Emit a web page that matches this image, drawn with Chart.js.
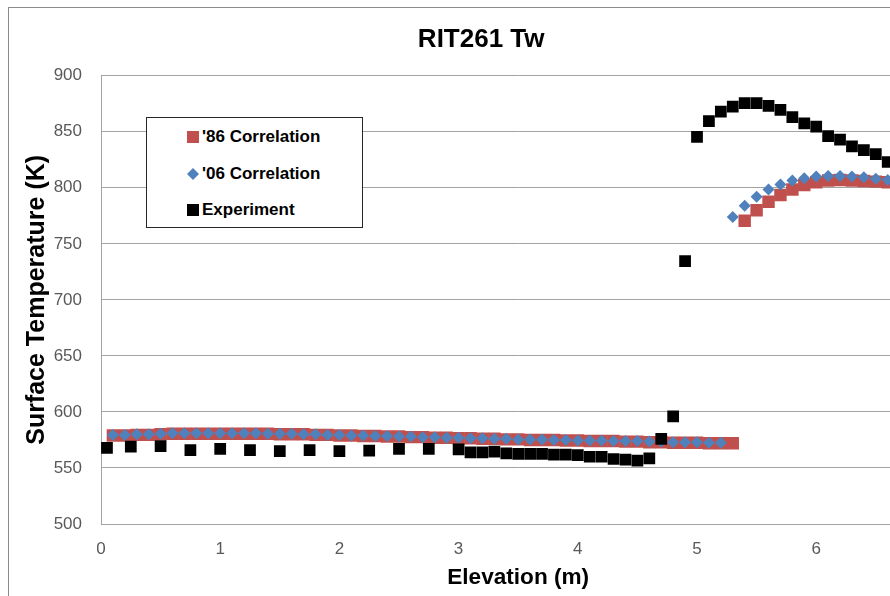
<!DOCTYPE html>
<html>
<head>
<meta charset="utf-8">
<title>RIT261 Tw</title>
<script src="https://cdn.jsdelivr.net/npm/chart.js@4/dist/chart.umd.min.js"></script>
<style>
  html, body { margin: 0; padding: 0; background: #fff; overflow: hidden; width: 890px; height: 596px; }
  #frame { position: absolute; left: 8px; top: 7px; width: 1000px; height: 700px;
           border-left: 1px solid #8c8c8c; border-top: 1px solid #8c8c8c; }
  #plot { position: absolute; left: 0; top: 0; }
  #legend { position: absolute; left: 146px; top: 117px; width: 215px; height: 109px;
            border: 1px solid #262626; background: #fff;
            font: bold 17px "Liberation Sans", Arial, sans-serif; color: #000; }
  #legend .item { position: absolute; left: 0; height: 20px; width: 100%; }
  #legend .mark { position: absolute; }
  #legend .txt { position: absolute; left: 55px; top: 0; line-height: 20px; white-space: nowrap; }
</style>
</head>
<body>
<div id="frame"></div>
<canvas id="plot" width="980" height="600"></canvas>
<div id="legend"></div>
<script>
// Elevation (m) of the correlation predictions
const elevCorr = [
  0.1, 0.2, 0.3, 0.4, 0.5, 0.6, 0.7, 0.8, 0.9, 1.0,
  1.1, 1.2, 1.3, 1.4, 1.5, 1.6, 1.7, 1.8, 1.9, 2.0,
  2.1, 2.2, 2.3, 2.4, 2.5, 2.6, 2.7, 2.8, 2.9, 3.0,
  3.1, 3.2, 3.3, 3.4, 3.5, 3.6, 3.7, 3.8, 3.9, 4.0,
  4.1, 4.2, 4.3, 4.4, 4.5, 4.6, 4.7, 4.8, 4.9, 5.0,
  5.1, 5.2, 5.3, 5.4, 5.5, 5.6, 5.7, 5.8, 5.9, 6.0,
  6.1, 6.2, 6.3, 6.4, 6.5, 6.6
];

// Surface temperature (K), '86 correlation
const tw86 = [
  579, 579, 579.5, 579.5, 580, 580.5, 580.5, 580.5, 580.5, 580.5,
  580.5, 580.5, 580.5, 580.5, 580, 580, 580, 579.5, 579.5, 579,
  579, 578.5, 578.5, 578, 578, 577.5, 577.5, 577, 577, 576.5,
  576.5, 576, 576, 575.5, 575.5, 575, 575, 575, 574.5, 574.5,
  574, 574, 574, 573.5, 573.5, 573, 573, 572.5, 572.5, 572.5,
  572, 572, 572, 770.5, 780, 787.5, 793.5, 798.5, 802.5, 805,
  806.5, 807, 806.5, 806, 805.5, 805
];

// Surface temperature (K), '06 correlation
const tw06 = [
  579.5, 579.5, 580, 580, 580.5, 581, 581, 581, 581, 581,
  581, 581, 581, 580.5, 580.5, 580.5, 580, 580, 579.5, 579.5,
  579, 579, 578.5, 578.5, 578, 578, 577.5, 577.5, 577, 577,
  576.5, 576.5, 576, 576, 575.5, 575.5, 575.5, 575, 575, 574.5,
  574.5, 574.5, 574, 574, 574, 573.5, 573.5, 573, 573, 573,
  572.5, 572.5, 774, 784, 792, 798.5, 803, 806.5, 808.5, 810,
  810.5, 810.5, 810, 809.5, 808, 807
];

// Measured thermocouple elevations (m) and wall temperatures (K)
const elevExp = [
  0.05, 0.25, 0.5, 0.75, 1.0, 1.25, 1.5, 1.75, 2.0, 2.25,
  2.5, 2.75, 3.0, 3.1, 3.2, 3.3, 3.4, 3.5, 3.6, 3.7,
  3.8, 3.9, 4.0, 4.1, 4.2, 4.3, 4.4, 4.5, 4.6, 4.7,
  4.8, 4.9, 5.0, 5.1, 5.2, 5.3, 5.4, 5.5, 5.6, 5.7,
  5.8, 5.9, 6.0, 6.1, 6.2, 6.3, 6.4, 6.5, 6.6
];
const twExp = [
  568, 569, 569.5, 566, 567, 566, 565, 566, 565, 565.5,
  567, 567, 566.5, 564, 564, 564.5, 563, 562.5, 562.5, 562.5,
  562, 562, 561.5, 560, 560, 558, 557.5, 556.5, 558.5, 576,
  596, 734.5, 845.5, 859.5, 868, 872.5, 875.5, 875.5, 873, 869.5,
  863, 857.5, 854.5, 846, 843, 837, 833.5, 830, 823
];

// Axis settings
const xRange = { min: 0, max: 7, step: 1 };
const yRange = { min: 500, max: 900, step: 50 };

const FONT = '"Liberation Sans", Arial, sans-serif';
const GRID = '#a3a3a3';
const TICK = '#595959';

const pairs = (xs, ys) => xs.map((x, i) => ({ x: x, y: ys[i] }));

Chart.defaults.font.family = FONT;

const canvas = document.getElementById('plot');
const chart = new Chart(canvas, {
  type: 'scatter',
  data: {
    datasets: [
      { label: "'86 Correlation", data: pairs(elevCorr, tw86), pointStyle: 'rect',
        pointRadius: 8.8, backgroundColor: '#C0504D', borderWidth: 0, order: 3 },
      { label: "'06 Correlation", data: pairs(elevCorr, tw06), pointStyle: 'rectRot',
        pointRadius: 6, backgroundColor: '#4F81BD', borderWidth: 0, order: 2 },
      { label: 'Experiment', data: pairs(elevExp, twExp), pointStyle: 'rect',
        pointRadius: 8.3, backgroundColor: '#000000', borderWidth: 0, order: 1 }
    ]
  },
  options: {
    responsive: false,
    animation: false,
    devicePixelRatio: 1,
    events: [],
    layout: { padding: { left: 27, right: 44.6, top: 0, bottom: 0 } },
    plugins: {
      legend: { display: false },
      tooltip: { enabled: false },
      title: {
        display: true, text: 'RIT261 Tw', color: '#000',
        font: { family: FONT, size: 26, weight: 'bold', lineHeight: 1.2 },
        padding: { top: 24.4, bottom: 20.1 }
      }
    },
    scales: {
      x: {
        type: 'linear', min: xRange.min, max: xRange.max,
        ticks: { stepSize: xRange.step, color: TICK, font: { size: 17 }, padding: 14.8 },
        grid: { display: false, drawTicks: false },
        border: { display: true, color: GRID, width: 1 },
        title: { display: true, text: 'Elevation (m)', color: '#000',
                 font: { family: FONT, size: 22.6, weight: 'bold', lineHeight: 1.2 },
                 padding: { top: 0, bottom: 8.4 } },
        afterFit(scale) { scale.height = 76; }
      },
      y: {
        type: 'linear', min: yRange.min, max: yRange.max,
        ticks: { stepSize: yRange.step, color: TICK, font: { size: 17 }, padding: 19 },
        grid: { color: GRID, lineWidth: 1, drawTicks: false },
        border: { display: true, color: GRID, width: 1 },
        title: { display: true, text: 'Surface Temperature (K)', color: '#000',
                 font: { family: FONT, size: 25, weight: 'bold', lineHeight: 0.84 },
                 padding: { top: 0, bottom: 0 } },
        afterFit(scale) { scale.width = 74; }
      }
    }
  }
});

// Boxed legend inside the plot, built from the dataset styles
const legend = document.getElementById('legend');
const rowCenters = [19, 56, 92];
chart.data.datasets.forEach((ds, i) => {
  const item = document.createElement('div');
  item.className = 'item';
  item.style.top = (rowCenters[i] - 10) + 'px';
  const mark = document.createElement('div');
  mark.className = 'mark';
  mark.style.background = ds.backgroundColor;
  if (ds.pointStyle === 'rectRot') {
    const s = ds.pointRadius * 2;
    mark.style.width = s + 'px';
    mark.style.height = s + 'px';
    mark.style.left = (46 - s / 2) + 'px';
    mark.style.top = (10 - s / 2) + 'px';
    mark.style.clipPath = 'polygon(50% 0, 100% 50%, 50% 100%, 0 50%)';
  } else {
    const s = 12;
    mark.style.width = s + 'px';
    mark.style.height = s + 'px';
    mark.style.left = (46 - s / 2) + 'px';
    mark.style.top = (10 - s / 2) + 'px';
  }
  const txt = document.createElement('div');
  txt.className = 'txt';
  txt.textContent = ds.label;
  item.appendChild(mark);
  item.appendChild(txt);
  legend.appendChild(item);
});
</script>
</body>
</html>
